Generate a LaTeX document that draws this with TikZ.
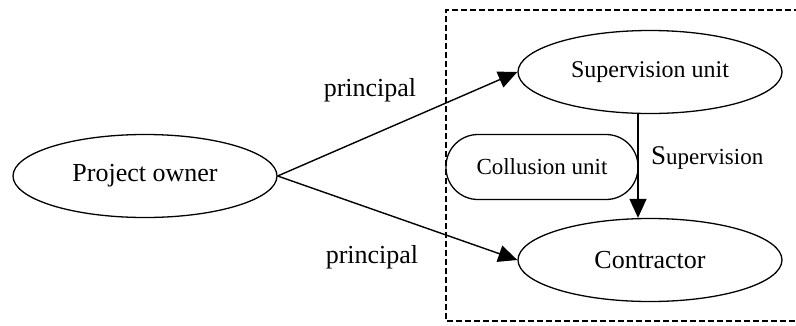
\documentclass[tikz,border=0pt]{standalone}
\usepackage{fontspec}
\setmainfont{Liberation Serif}
\usetikzlibrary{shapes.geometric,arrows.meta}
\begin{document}
\begin{tikzpicture}[x=1pt,y=-1pt,
  ell/.style={draw,ellipse,line width=1.3pt,minimum width=264pt,minimum height=83pt,inner sep=0pt},
  pill/.style={draw,rounded rectangle,line width=1.3pt,minimum width=192pt,minimum height=65pt,inner sep=0pt},
  conn/.style={line width=1.4pt,-{Triangle[length=19pt,width=17pt]}},
  lbl/.style={font=\fontsize{26}{30}\selectfont}]
\useasboundingbox (0,0) rectangle (796,325);
\draw[dashed,line width=1.1pt,dash pattern=on 6pt off 3pt] (800,10) coordinate (b1) -- (446,10) -- (446,321) -- (800,321);
\node[ell,font=\fontsize{26}{30}\selectfont] (po) at (145,176) {Project owner};
\node[ell,font=\fontsize{24}{28}\selectfont] (su) at (650,72) {Supervision unit};
\node[ell,font=\fontsize{26}{30}\selectfont] (co) at (650,260) {Contractor};
\node[draw,line width=1.3pt,rounded corners=32pt,minimum width=192pt,minimum height=65pt,inner sep=0pt,font=\fontsize{23}{28}\selectfont] (cu) at (542,167) {Collusion unit};
\draw[conn] (po.east) -- (su.west);
\draw[conn] (po.east) -- (co.west);
\draw[conn] (su.south -| 638,0) -- (co.north -| 638,0);
\node[lbl] (p1) at (370,90) {principal};
\node[lbl] (p2) at (372,257) {principal};
\node[anchor=west,inner sep=0pt] (sl) at (651,158) {\fontsize{27}{30}\selectfont S\fontsize{23}{30}\selectfont upervision};
\end{tikzpicture}
\end{document}
